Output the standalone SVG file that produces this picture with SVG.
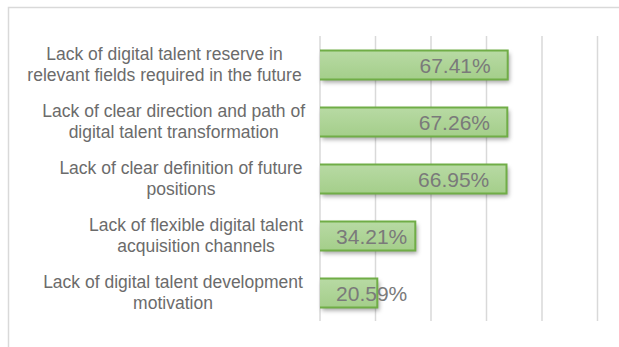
<svg xmlns="http://www.w3.org/2000/svg" width="619" height="347" viewBox="0 0 619 347">
  <style>
    .grid { stroke: #d9d9d9; stroke-width: 1.5; }
    .frame { stroke: #d9d9d9; stroke-width: 1.5; fill: none; }
    .bar { fill: url(#barFill); filter: url(#shadow); }
    .barEdge { fill: none; stroke: #70ad47; stroke-width: 2; }
    .cat { font-family: "Liberation Sans", Arial, sans-serif; font-size: 17.5px; fill: #6b6b6b; text-anchor: middle; }
    .val { font-family: "Liberation Sans", Arial, sans-serif; font-size: 21px; fill: #7a7a7a; text-anchor: end; }
  </style>
  <defs>
    <linearGradient id="barFill" x1="0" y1="0" x2="0" y2="1">
      <stop offset="0" stop-color="#b8daa4"/>
      <stop offset="1" stop-color="#a4ce8a"/>
    </linearGradient>
    <filter id="shadow" x="-10%" y="-30%" width="130%" height="180%">
      <feDropShadow dx="2" dy="3" stdDeviation="2" flood-color="#000" flood-opacity="0.35"/>
    </filter>
  </defs>
  <rect width="619" height="347" fill="#ffffff"/>
  <g id="frame">
    <path class="frame" d="M8.5,347 V7.5 H619"/>
  </g>
  <g id="gridlines">
    <line class="grid" x1="320" y1="36" x2="320" y2="321"/>
    <line class="grid" x1="375.5" y1="36" x2="375.5" y2="321"/>
    <line class="grid" x1="431" y1="36" x2="431" y2="321"/>
    <line class="grid" x1="486.5" y1="36" x2="486.5" y2="321"/>
    <line class="grid" x1="542" y1="36" x2="542" y2="321"/>
    <line class="grid" x1="597.5" y1="36" x2="597.5" y2="321"/>
  </g>
  <g id="bar1">
    <rect class="bar" x="320" y="50.5" width="187.7" height="29"/>
    <path class="barEdge" d="M320,50.5 H507.7 V79.5 H320"/>
    <text class="val" x="490.7" y="72.7">67.41%</text>
  </g>
  <g id="bar2">
    <rect class="bar" x="320" y="107.5" width="187.3" height="29"/>
    <path class="barEdge" d="M320,107.5 H507.3 V136.5 H320"/>
    <text class="val" x="490" y="129.7">67.26%</text>
  </g>
  <g id="bar3">
    <rect class="bar" x="320" y="164.5" width="186.5" height="29"/>
    <path class="barEdge" d="M320,164.5 H506.5 V193.5 H320"/>
    <text class="val" x="489.3" y="186.7">66.95%</text>
  </g>
  <g id="bar4">
    <rect class="bar" x="320" y="221.5" width="95.3" height="29"/>
    <path class="barEdge" d="M320,221.5 H415.3 V250.5 H320"/>
    <text class="val" x="407.3" y="243.7">34.21%</text>
  </g>
  <g id="bar5">
    <rect class="bar" x="320" y="278.5" width="57.3" height="29"/>
    <path class="barEdge" d="M320,278.5 H377.3 V307.5 H320"/>
    <text class="val" x="407.3" y="300.7">20.59%</text>
  </g>
  <g id="label1">
    <text class="cat" x="164.5" y="60">Lack of digital talent reserve in</text>
    <text class="cat" x="164.5" y="81">relevant fields required in the future</text>
  </g>
  <g id="label2">
    <text class="cat" x="173.7" y="117">Lack of clear direction and path of</text>
    <text class="cat" x="173.7" y="138">digital talent transformation</text>
  </g>
  <g id="label3">
    <text class="cat" x="181" y="174">Lack of clear definition of future</text>
    <text class="cat" x="181" y="195">positions</text>
  </g>
  <g id="label4">
    <text class="cat" x="196" y="231">Lack of flexible digital talent</text>
    <text class="cat" x="196" y="252">acquisition channels</text>
  </g>
  <g id="label5">
    <text class="cat" x="173" y="288">Lack of digital talent development</text>
    <text class="cat" x="173" y="309">motivation</text>
  </g>
</svg>
